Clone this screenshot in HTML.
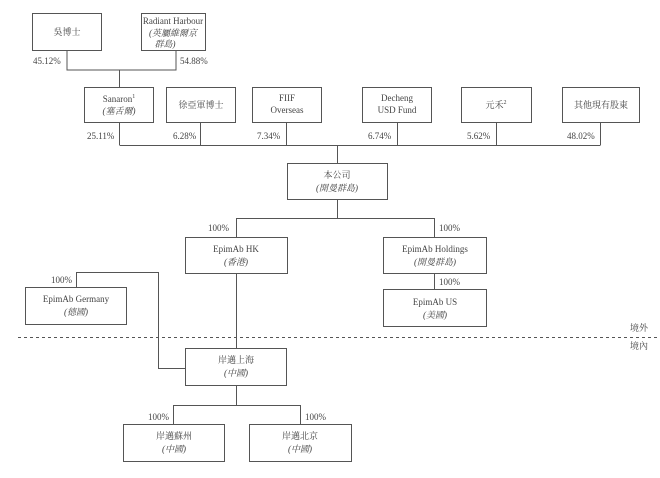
<!DOCTYPE html>
<html><head><meta charset="utf-8"><style>
html,body{margin:0;padding:0;background:#fff;}
svg{display:block;}
text{font-family:"Liberation Serif","Noto Serif CJK SC",serif;font-size:9px;fill:#444;}
.i{font-style:italic;}
</style></head><body>
<svg width="660" height="478" viewBox="0 0 660 478" xmlns="http://www.w3.org/2000/svg">
<g fill="none" stroke="#555" stroke-width="1">
<rect x="32.5" y="13.5" width="69" height="37"/>
<rect x="141.5" y="13.5" width="64" height="37"/>
<polyline points="67,50 67,70 176,70 176,50"/>
<line x1="119.5" y1="70" x2="119.5" y2="87"/>
<rect x="84.5" y="87.5" width="69" height="35"/>
<rect x="166.5" y="87.5" width="69" height="35"/>
<rect x="252.5" y="87.5" width="69" height="35"/>
<rect x="362.5" y="87.5" width="69" height="35"/>
<rect x="461.5" y="87.5" width="70" height="35"/>
<rect x="562.5" y="87.5" width="77" height="35"/>
<line x1="119.5" y1="145.5" x2="600.5" y2="145.5"/>
<line x1="119.5" y1="122" x2="119.5" y2="145"/>
<line x1="200.5" y1="122" x2="200.5" y2="145"/>
<line x1="286.5" y1="122" x2="286.5" y2="145"/>
<line x1="397.5" y1="122" x2="397.5" y2="145"/>
<line x1="496.5" y1="122" x2="496.5" y2="145"/>
<line x1="600.5" y1="122" x2="600.5" y2="145"/>
<line x1="337.5" y1="145" x2="337.5" y2="163"/>
<rect x="287.5" y="163.5" width="100" height="36"/>
<line x1="337.5" y1="199" x2="337.5" y2="218"/>
<polyline points="236.5,237 236.5,218.5 434.5,218.5 434.5,237"/>
<rect x="185.5" y="237.5" width="102" height="36"/>
<rect x="383.5" y="237.5" width="103" height="36"/>
<line x1="434.5" y1="273" x2="434.5" y2="289"/>
<rect x="383.5" y="289.5" width="103" height="37"/>
<rect x="25.5" y="287.5" width="101" height="37"/>
<polyline points="76.5,287 76.5,272.5 158.5,272.5 158.5,368.5 185,368.5"/>
<line x1="236.5" y1="273" x2="236.5" y2="348"/>
<line x1="18" y1="337.5" x2="660" y2="337.5" stroke-dasharray="3,3"/>
<rect x="185.5" y="348.5" width="101" height="37"/>
<line x1="236.5" y1="385" x2="236.5" y2="405"/>
<polyline points="173.5,424 173.5,405.5 300.5,405.5 300.5,424"/>
<rect x="123.5" y="424.5" width="101" height="37"/>
<rect x="249.5" y="424.5" width="102" height="37"/>
</g>
<g text-anchor="middle">
<text x="67" y="35">吳博士</text>
<text x="173" y="24">Radiant Harbour</text>
<text x="173" y="36" class="i">(英屬維爾京</text>
<text x="165" y="47" class="i">群島)</text>
<text x="119" y="102">Sanaron<tspan font-size="6" dy="-4">1</tspan></text>
<text x="119" y="114" class="i">(塞舌爾)</text>
<text x="201" y="108">徐亞軍博士</text>
<text x="287" y="101">FIIF</text>
<text x="287" y="113">Overseas</text>
<text x="397" y="101">Decheng</text>
<text x="397" y="113">USD Fund</text>
<text x="496" y="108">元禾<tspan font-size="6" dy="-4">2</tspan></text>
<text x="601" y="108">其他現有股東</text>
<text x="337" y="178">本公司</text>
<text x="337" y="191" class="i">(開曼群島)</text>
<text x="236" y="252">EpimAb HK</text>
<text x="236" y="265" class="i">(香港)</text>
<text x="435" y="252">EpimAb Holdings</text>
<text x="435" y="265" class="i">(開曼群島)</text>
<text x="435" y="305">EpimAb US</text>
<text x="435" y="318" class="i">(美國)</text>
<text x="76" y="302">EpimAb Germany</text>
<text x="76" y="315" class="i">(德國)</text>
<text x="236" y="363">岸邁上海</text>
<text x="236" y="376" class="i">(中國)</text>
<text x="174" y="439">岸邁蘇州</text>
<text x="174" y="452" class="i">(中國)</text>
<text x="300" y="439">岸邁北京</text>
<text x="300" y="452" class="i">(中國)</text>
</g>
<g>
<text x="33" y="64">45.12%</text>
<text x="180" y="64">54.88%</text>
<text x="87" y="139">25.11%</text>
<text x="173" y="139">6.28%</text>
<text x="257" y="139">7.34%</text>
<text x="368" y="139">6.74%</text>
<text x="467" y="139">5.62%</text>
<text x="567" y="139">48.02%</text>
<text x="208" y="231">100%</text>
<text x="439" y="231">100%</text>
<text x="439" y="285">100%</text>
<text x="51" y="283">100%</text>
<text x="148" y="420">100%</text>
<text x="305" y="420">100%</text>
<text x="630" y="331">境外</text>
<text x="630" y="349">境內</text>
</g>
</svg>
</body></html>
